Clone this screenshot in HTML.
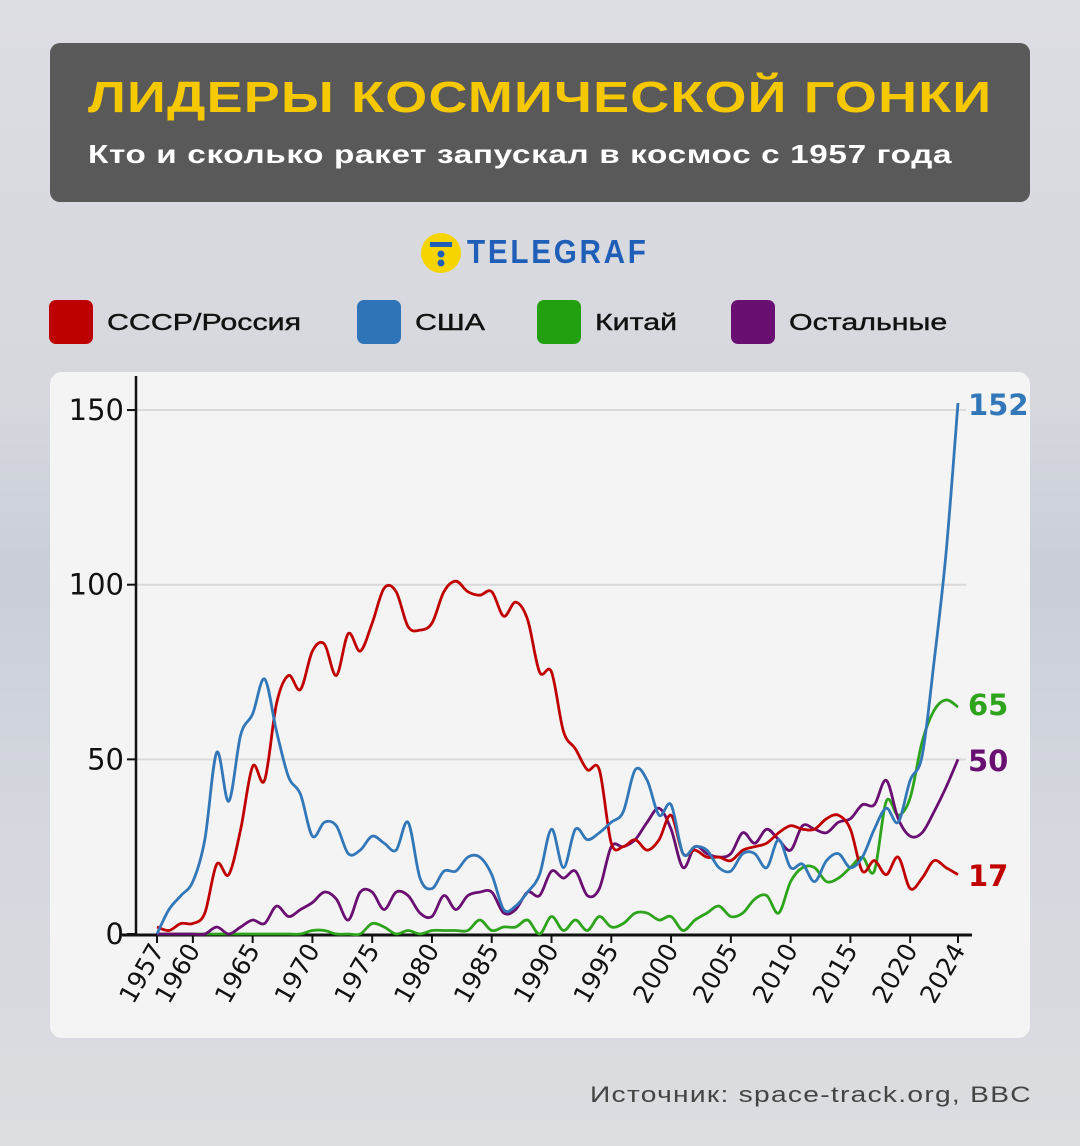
<!DOCTYPE html>
<html><head><meta charset="utf-8"><style>
body{margin:0;width:1080px;height:1146px;overflow:hidden;font-family:"Liberation Sans","DejaVu Sans",sans-serif;background:linear-gradient(180deg,#dcdde2 0%,#d6d8de 35%,#c9ced8 50%,#d4d7de 70%,#dcdde1 100%);position:relative}
.hdr{position:absolute;left:50px;top:43px;width:980px;height:159px;background:#595959;border-radius:10px}
.t1{position:absolute;left:38px;top:30px;color:#f6c800;font-weight:bold;font-size:44px;letter-spacing:1px;transform:scaleX(1.225);transform-origin:0 0;white-space:nowrap}
.t2{position:absolute;left:38px;top:96px;color:#fff;font-size:26px;font-weight:bold;letter-spacing:0.5px;transform:scaleX(1.28);transform-origin:0 0;white-space:nowrap}
.logo{position:absolute;left:421px;top:233px;width:40px;height:40px;border-radius:50%;background:#f6d400}
.lt{position:absolute;left:467px;top:233px;color:#1f5fb8;font-weight:bold;font-size:33px;letter-spacing:3px;transform:scaleX(0.9);transform-origin:0 0}
.sq{position:absolute;top:300px;width:44px;height:44px;border-radius:7px}
.lg{position:absolute;top:309px;font-size:23px;color:#111;transform:scaleX(1.32);transform-origin:0 0;white-space:nowrap;-webkit-text-stroke:0.4px #111}
.card{position:absolute;left:50px;top:372px;width:980px;height:666px;background:#f4f4f4;border-radius:12px}
.src{position:absolute;left:590px;top:1082px;font-size:22px;color:#444;letter-spacing:1px;transform:scaleX(1.28);transform-origin:0 0;white-space:nowrap}
</style></head><body>
<div class="hdr"><div class="t1">ЛИДЕРЫ КОСМИЧЕСКОЙ ГОНКИ</div><div class="t2">Кто и сколько ракет запускал в космос с 1957 года</div></div>
<div class="logo"><svg width="40" height="40"><rect x="9" y="9" width="22" height="5" fill="#1f5fb8"/><circle cx="20" cy="21" r="3.5" fill="#1f5fb8"/><circle cx="20" cy="30" r="3.5" fill="#1f5fb8"/></svg></div>
<div class="lt">TELEGRAF</div>
<div class="sq" style="left:49px;background:#bd0000"></div><div class="lg" style="left:107px">СССР/Россия</div>
<div class="sq" style="left:357px;background:#2f74b8"></div><div class="lg" style="left:415px">США</div>
<div class="sq" style="left:537px;background:#22a010"></div><div class="lg" style="left:595px">Китай</div>
<div class="sq" style="left:731px;background:#6a0f72"></div><div class="lg" style="left:789px">Остальные</div>
<div class="card"></div>
<svg id="ch" style="position:absolute;left:0;top:0" width="1080" height="1146"></svg>
<div class="src">Источник: space-track.org, BBC</div>
<script>
const R=[2,1,3,3,6,20,17,30,48,44,66,74,70,81,83,74,86,81,89,99,98,88,87,89,98,101,98,97,98,91,95,90,75,75,58,53,47,47,26,25,27,24,27,34,23,24,22,22,21,24,25,26,29,31,30,30,33,34,30,18,21,17,22,13,16,21,19,17];
const B=[0,7,11,15,27,52,38,57,63,73,58,45,40,28,32,31,23,24,28,26,24,32,16,13,18,18,22,22,17,7,8,12,17,30,19,30,27,29,32,35,47,44,34,37,23,25,24,19,18,23,23,19,27,19,20,15,21,23,19,22,30,36,32,44,51,78,109,152];
const P=[0,0,0,0,0,2,0,2,4,3,8,5,7,9,12,10,4,12,12,7,12,11,6,5,11,7,11,12,12,6,7,12,11,18,16,18,11,13,25,25,27,32,36,30,19,25,23,22,23,29,26,30,27,24,31,30,29,32,33,37,37,44,33,28,29,35,42,50];
const G=[0,0,0,0,0,0,0,0,0,0,0,0,0,1,1,0,0,0,3,2,0,1,0,1,1,1,1,4,1,2,2,4,0,5,1,4,1,5,2,3,6,6,4,5,1,4,6,8,5,6,10,11,6,15,19,19,15,16,19,22,18,38,34,39,55,64,67,65];
const X=y=>157+(y-1957)*11.955, Y=v=>934-v*3.493;
let s='';
[50,100,150].forEach(v=>{s+=`<line x1="137" x2="966" y1="${Y(v)}" y2="${Y(v)}" stroke="#dadada" stroke-width="2"/>`;});
s+=`<line x1="136" y1="376" x2="136" y2="935" stroke="#111" stroke-width="2.5"/><line x1="122" y1="935" x2="972" y2="935" stroke="#111" stroke-width="3"/>`;
[[0,'0'],[50,'50'],[100,'100'],[150,'150']].forEach(([v,t])=>{s+=`<line x1="127" x2="136" y1="${Y(v)}" y2="${Y(v)}" stroke="#111" stroke-width="2"/><text x="124" y="${Y(v)+10}" text-anchor="end" font-size="29" fill="#111" font-family="DejaVu Sans,sans-serif">${t}</text>`;});
const yrs=[1957,1960,1965,1970,1975,1980,1985,1990,1995,2000,2005,2010,2015,2020,2024];
yrs.forEach(y=>{const x=X(y);s+=`<line x1="${x}" x2="${x}" y1="935" y2="943" stroke="#111" stroke-width="2"/><text transform="translate(${x+8},950) rotate(-60)" text-anchor="end" font-size="25" fill="#111" font-family="DejaVu Sans,sans-serif">${y}</text>`;});
function path(d){const p=d.map((v,i)=>[X(1957+i),Y(v)]);let o=`M${p[0][0]},${p[0][1]}`;for(let i=0;i<p.length-1;i++){const a=p[i-1]||p[i],b=p[i],c=p[i+1],e=p[i+2]||c;const t=0.5/3;o+=` C${b[0]+(c[0]-a[0])*t},${b[1]+(c[1]-a[1])*t} ${c[0]-(e[0]-b[0])*t},${c[1]-(e[1]-b[1])*t} ${c[0]},${c[1]}`;}return o;}
[[G,'#2ea31c'],[P,'#6a0f72'],[R,'#c00000'],[B,'#3277b8']].forEach(([d,c])=>{s+=`<path d="${path(d)}" fill="none" stroke="${c}" stroke-width="2.8" stroke-linejoin="round"/>`;});
[['152',415,'#3277b8'],['65',715,'#2ea31c'],['50',771,'#6a0f72'],['17',886,'#c00000']].forEach(([t,y,c])=>{s+=`<text x="968" y="${y}" font-size="29" font-weight="bold" fill="${c}" font-family="DejaVu Sans,sans-serif">${t}</text>`;});
document.getElementById('ch').innerHTML=s;
</script>
</body></html>
